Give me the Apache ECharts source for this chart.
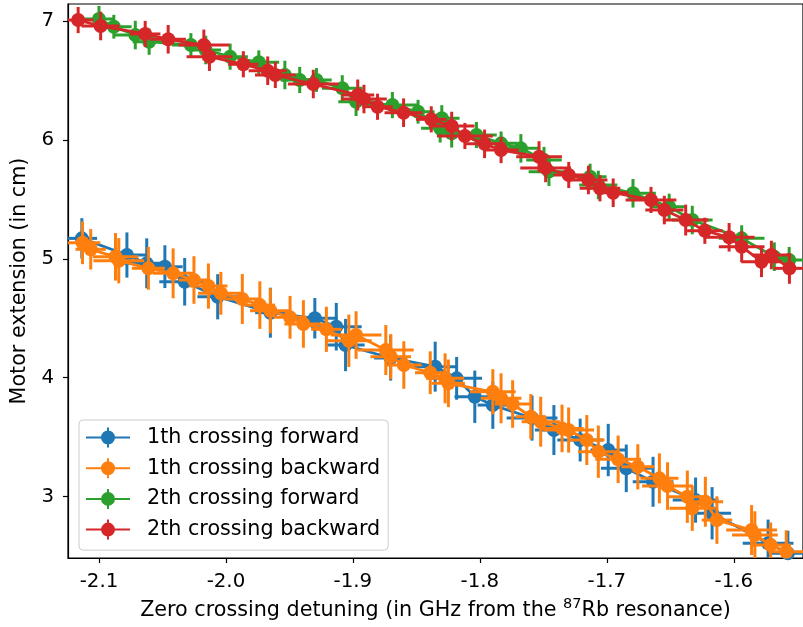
<!DOCTYPE html>
<html>
<head>
<meta charset="utf-8">
<script src="https://cdn.jsdelivr.net/npm/echarts@6/dist/echarts.min.js"></script>
<style>
  html, body { margin: 0; padding: 0; background: #fff; }
  #chart { width: 803px; height: 627px; }
</style>
</head>
<body>
<div id="chart"></div>
<script>
// tick labels
const xTicks = [-2.1, -2.0, -1.9, -1.8, -1.7, -1.6];
const yTicks = [3, 4, 5, 6, 7];

// 1th crossing forward
const fwd1X = [-2.1135,-2.0780,-2.0624,-2.0481,-2.0325,-2.0065,-1.9650,-1.9300,-1.9131,-1.9058,-1.8703,-1.8352,-1.8183,-1.8040,-1.7898,-1.7589,-1.7417,-1.7210,-1.6989,-1.6847,-1.6636,-1.6301,-1.6171,-1.5730,-1.5574];
const fwd1Y = [5.172,5.032,4.962,4.934,4.807,4.681,4.547,4.500,4.429,4.275,4.166,4.093,3.995,3.840,3.770,3.661,3.560,3.476,3.392,3.238,3.125,2.971,2.860,2.607,2.523];
const fwd1Xerr = [0.012,0.015,0.018,0.014,0.02,0.016,0.012,0.018,0.02,0.015,0.013,0.017,0.02,0.016,0.012,0.02,0.015,0.018,0.014,0.02,0.016,0.018,0.015,0.02,0.014];
const fwd1Yerr = [0.17,0.19,0.21,0.18,0.2,0.19,0.21,0.17,0.2,0.22,0.19,0.21,0.18,0.22,0.2,0.19,0.21,0.18,0.22,0.2,0.21,0.19,0.22,0.2,0.19];

// 1th crossing backward
const bwd1X = [-2.1130,-2.1065,-2.0870,-2.0844,-2.0611,-2.0416,-2.0252,-2.0138,-2.0040,-1.9871,-1.9733,-1.9650,-1.9495,-1.9390,-1.9209,-1.9032,-1.8975,-1.8741,-1.8702,-1.8599,-1.8391,-1.8274,-1.8248,-1.7898,-1.7833,-1.7742,-1.7599,-1.7521,-1.7353,-1.7301,-1.7158,-1.7067,-1.6911,-1.6756,-1.6586,-1.6522,-1.6366,-1.6327,-1.6224,-1.6133,-1.5860,-1.5834,-1.5710,-1.5587];
const bwd1Y = [5.135,5.080,5.017,4.984,4.920,4.878,4.822,4.771,4.710,4.662,4.611,4.563,4.508,4.452,4.407,4.311,4.359,4.233,4.177,4.107,4.042,3.995,3.953,3.882,3.827,3.779,3.672,3.630,3.574,3.560,3.476,3.378,3.314,3.251,3.154,3.089,2.999,2.902,2.957,2.803,2.719,2.677,2.593,2.537];
const bwd1Xerr = [0.014,0.012,0.018,0.02,0.013,0.016,0.012,0.015,0.018,0.014,0.012,0.016,0.013,0.015,0.012,0.018,0.02,0.022,0.016,0.014,0.012,0.015,0.013,0.018,0.016,0.014,0.012,0.015,0.017,0.02,0.014,0.016,0.018,0.013,0.015,0.02,0.016,0.018,0.014,0.012,0.02,0.018,0.016,0.014];
const bwd1Yerr = [0.18,0.17,0.2,0.19,0.18,0.21,0.2,0.19,0.18,0.21,0.2,0.19,0.18,0.2,0.19,0.22,0.2,0.21,0.19,0.2,0.18,0.21,0.2,0.19,0.21,0.2,0.19,0.21,0.2,0.19,0.21,0.22,0.2,0.19,0.21,0.2,0.22,0.19,0.21,0.2,0.21,0.2,0.19,0.18];

// 2th crossing forward
const fwd2X = [-2.1000,-2.0883,-2.0714,-2.0605,-2.0276,-2.0159,-1.9967,-1.9741,-1.9536,-1.9419,-1.9287,-1.9084,-1.8975,-1.8689,-1.8487,-1.8313,-1.8300,-1.8222,-1.8027,-1.7833,-1.7677,-1.7495,-1.7456,-1.7132,-1.7067,-1.6794,-1.6509,-1.6327,-1.5938,-1.5681,-1.5564];
const fwd2Y = [7.017,6.952,6.882,6.826,6.798,6.756,6.700,6.653,6.546,6.504,6.504,6.434,6.321,6.293,6.237,6.098,6.182,6.056,6.041,5.971,5.929,5.831,5.733,5.690,5.621,5.551,5.438,5.326,5.172,5.018,4.990];
const fwd2Xerr = [0.012,0.014,0.016,0.013,0.015,0.012,0.014,0.016,0.013,0.015,0.012,0.016,0.014,0.02,0.013,0.015,0.014,0.012,0.016,0.013,0.015,0.014,0.016,0.013,0.015,0.018,0.014,0.016,0.018,0.015,0.014];
const fwd2Yerr = [0.11,0.1,0.12,0.11,0.1,0.12,0.11,0.1,0.12,0.11,0.1,0.11,0.12,0.11,0.1,0.12,0.11,0.12,0.11,0.1,0.12,0.11,0.12,0.11,0.12,0.12,0.11,0.12,0.11,0.12,0.11];

// 2th crossing backward
const bwd2X = [-2.1164,-2.0987,-2.0636,-2.0455,-2.0174,-2.0130,-1.9863,-1.9671,-1.9611,-1.9312,-1.8962,-1.8913,-1.8806,-1.8601,-1.8383,-1.8222,-1.8118,-1.7963,-1.7833,-1.7534,-1.7482,-1.7300,-1.7145,-1.7054,-1.6950,-1.6652,-1.6547,-1.6379,-1.6228,-1.6037,-1.5938,-1.5782,-1.5704,-1.5562];
const bwd2Y = [7.008,6.958,6.891,6.846,6.798,6.700,6.636,6.582,6.546,6.470,6.378,6.344,6.279,6.229,6.173,6.117,6.033,5.967,5.915,5.859,5.764,5.705,5.663,5.593,5.556,5.495,5.410,5.326,5.236,5.181,5.102,4.976,5.032,4.920];
const bwd2Xerr = [0.012,0.015,0.012,0.014,0.02,0.018,0.012,0.015,0.016,0.02,0.013,0.018,0.012,0.015,0.012,0.018,0.022,0.016,0.014,0.018,0.02,0.012,0.015,0.016,0.012,0.02,0.015,0.018,0.014,0.02,0.018,0.016,0.015,0.012];
const bwd2Yerr = [0.11,0.12,0.11,0.12,0.13,0.12,0.11,0.12,0.11,0.12,0.13,0.12,0.11,0.12,0.11,0.12,0.11,0.12,0.11,0.13,0.12,0.11,0.12,0.11,0.12,0.11,0.12,0.13,0.11,0.12,0.13,0.13,0.12,0.13];

const FONT = 'DejaVu Sans';
const FS = 20.7;
const TICK_FS = 19.8;

const groups = [
  { name: '1th crossing forward',  color: '#1f77b4', x: fwd1X, y: fwd1Y, xe: fwd1Xerr, ye: fwd1Yerr },
  { name: '1th crossing backward', color: '#ff7f0e', x: bwd1X, y: bwd1Y, xe: bwd1Xerr, ye: bwd1Yerr },
  { name: '2th crossing forward',  color: '#2ca02c', x: fwd2X, y: fwd2Y, xe: fwd2Xerr, ye: fwd2Yerr },
  { name: '2th crossing backward', color: '#d62728', x: bwd2X, y: bwd2Y, xe: bwd2Xerr, ye: bwd2Yerr }
];

const series = [];
groups.forEach((g, k) => {
  // error bars
  series.push({
    type: 'custom',
    name: g.name + ' err',
    z: 2 + k * 2,
    clip: true,
    silent: true,
    data: g.x.map((x, i) => [x, g.y[i], g.xe[i], g.ye[i]]),
    encode: { x: 0, y: 1 },
    renderItem: (params, api) => {
      const x = api.value(0), y = api.value(1), dx = api.value(2), dy = api.value(3);
      const a = api.coord([x - dx, y]), b = api.coord([x + dx, y]);
      const c = api.coord([x, y - dy]), d = api.coord([x, y + dy]);
      const st = { stroke: g.color, lineWidth: 3 };
      return {
        type: 'group',
        children: [
          { type: 'line', shape: { x1: a[0], y1: a[1], x2: b[0], y2: b[1] }, style: st },
          { type: 'line', shape: { x1: c[0], y1: c[1], x2: d[0], y2: d[1] }, style: st }
        ]
      };
    }
  });
  // line with markers
  series.push({
    type: 'line',
    name: g.name,
    z: 3 + k * 2,
    data: g.x.map((x, i) => [x, g.y[i]]),
    symbol: 'circle',
    symbolSize: 14,
    showSymbol: true,
    color: g.color,
    itemStyle: { color: g.color },
    lineStyle: { color: g.color, width: 2.8 },
    emphasis: { disabled: true }
  });
});

const chart = echarts.init(document.getElementById('chart'), null, { renderer: 'canvas' });

chart.setOption({
  animation: false,
  backgroundColor: '#fff',
  grid: {
    left: 68, right: -9, top: 4, bottom: 69,
    show: true, borderColor: '#000', borderWidth: 1.2
  },
  legend: {
    orient: 'vertical',
    left: 79, top: 420,
    padding: [7, 8, 10, 7],
    itemGap: 9.7,
    itemWidth: 44,
    itemHeight: 20,
    backgroundColor: '#fff',
    borderColor: '#cccccc',
    borderWidth: 1,
    borderRadius: 4,
    data: groups.map(g => g.name),
    icon: 'path://M0 9h44v2H0z M21 0h2v20h-2z M15 10a7 7 0 1 1 14 0a7 7 0 1 1 -14 0z',
    textStyle: { fontFamily: FONT, fontSize: FS, lineHeight: 20, color: '#000', padding: [0, 0, 0, 12] },
    selectedMode: false
  },
  xAxis: {
    type: 'value',
    min: -2.1244,
    max: -1.5455,
    splitLine: { show: false },
    axisLine: { onZero: false, lineStyle: { color: '#000', width: 1.2 } },
    axisTick: { show: true, length: 5, lineStyle: { color: '#000', width: 1.2 }, customValues: xTicks },
    axisLabel: {
      fontFamily: FONT, fontSize: TICK_FS, color: '#000', margin: 14,
      customValues: xTicks,
      formatter: v => v.toFixed(1)
    },
    name: '{a|Zero crossing detuning (in GHz from the }{s|87}{a|Rb resonance)}',
    nameLocation: 'middle',
    nameGap: 39,
    nameTextStyle: {
      rich: {
        a: { fontFamily: FONT, fontSize: FS, color: '#000', verticalAlign: 'bottom' },
        s: { fontFamily: FONT, fontSize: 14.5, color: '#000', verticalAlign: 'bottom', padding: [0, 0, 9, 0] }
      }
    }
  },
  yAxis: {
    type: 'value',
    min: 2.484,
    max: 7.143,
    splitLine: { show: false },
    axisLine: { show: true, onZero: false, lineStyle: { color: '#000', width: 1.2 } },
    axisTick: { show: true, length: 5, lineStyle: { color: '#000', width: 1.2 }, customValues: yTicks },
    axisLabel: {
      fontFamily: FONT, fontSize: TICK_FS, color: '#000', margin: 14,
      customValues: yTicks,
      formatter: v => String(Math.round(v))
    },
    name: 'Motor extension (in cm)',
    nameLocation: 'middle',
    nameGap: 37,
    nameTextStyle: { fontFamily: FONT, fontSize: FS, color: '#000' }
  },
  series: series
});
</script>
</body>
</html>
